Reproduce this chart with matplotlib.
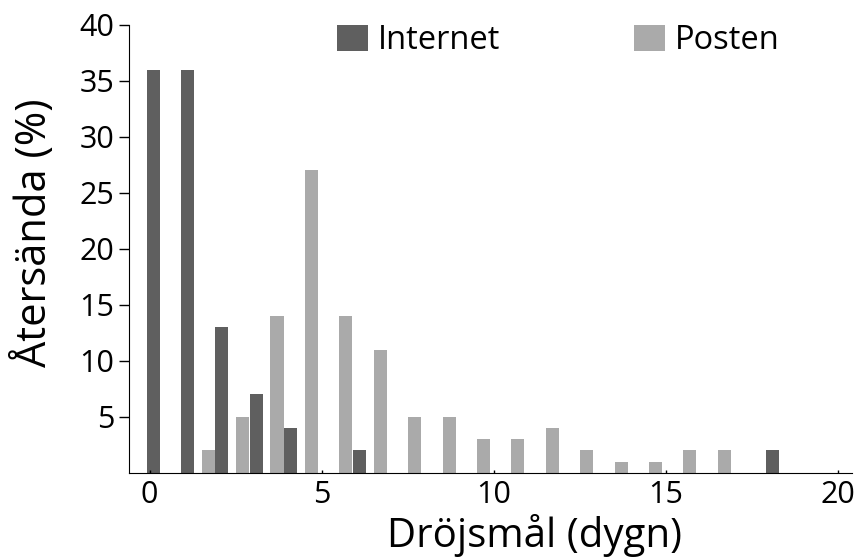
import numpy as np
import matplotlib
matplotlib.use("Agg")
import matplotlib.pyplot as plt

plt.rcParams['font.family'] = ['Open Sans', 'DejaVu Sans']

# Andel återsända enkäter per dygn (%)
dagar = np.arange(0, 21)
internet = [36, 36, 13, 7, 4, 0, 2, 0, 0, 0, 0, 0, 0, 0, 0, 0, 0, 0, 2, 0, 0]
posten = [0, 2, 5, 14, 27, 14, 11, 5, 5, 3, 3, 4, 2, 1, 1, 2, 2, 0, 0, 0, 0]

fig = plt.figure(figsize=(8.55, 5.6), dpi=100)
ax = fig.add_axes([0.1509, 0.1559, 0.8456, 0.7995])

w = 0.38
ax.bar(dagar + 0.1, internet, width=w, color='#5f5f5f', label='Internet')
ax.bar(dagar + 0.7, posten, width=w, color='#aaaaaa', label='Posten')

ax.set_xlim(-0.6, 20.41)
ax.set_ylim(0, 40)
ax.set_xticks([0, 5, 10, 15, 20])
ax.set_yticks([5, 10, 15, 20, 25, 30, 35, 40])
ax.tick_params(axis='y', direction='out', length=7.5, width=1, labelsize=22, pad=3)
ax.tick_params(axis='x', direction='in', length=2, width=1, labelsize=22, pad=5)

for s in ['top', 'right']:
    ax.spines[s].set_visible(False)
ax.spines['left'].set_bounds(0, 40)

ax.set_xlabel('Dröjsmål (dygn)', fontsize=29)
ax.xaxis.set_label_coords(0.561, -0.093, transform=ax.transAxes)
ax.xaxis.label.set_va('top')
ax.set_ylabel('Återsända (%)', fontsize=30)
ax.yaxis.set_label_coords(-0.132, 0.536, transform=ax.transAxes)
ax.yaxis.label.set_va('center')

ax.legend(ncol=2, frameon=False, fontsize=23.5, loc='upper left',
          bbox_to_anchor=(0.247, 1.068), handlelength=0.95, handleheight=0.85,
          handletextpad=0.3, columnspacing=4.1)

fig.savefig('out.png', dpi=100)
